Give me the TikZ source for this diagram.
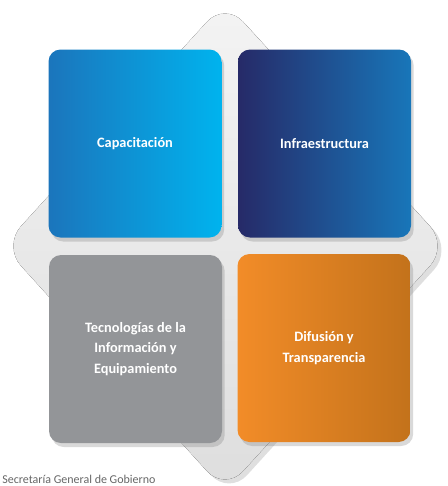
\documentclass[tikz,border=0pt]{standalone}
\usepackage{fontspec}
\setmainfont{Carlito}
\usetikzlibrary{shadows}
\definecolor{capizq}{HTML}{1B75BC}
\definecolor{capder}{HTML}{00B3EE}
\definecolor{infizq}{HTML}{262A68}
\definecolor{infder}{HTML}{1876B9}
\definecolor{tecgris}{HTML}{939598}
\definecolor{difizq}{HTML}{F28C28}
\definecolor{difder}{HTML}{C3721B}
\begin{document}
\begin{tikzpicture}[x=0.75pt,y=0.75pt,
        cuadro/.style={rounded corners=9pt, minimum width=129.75pt, minimum height=141pt,
          align=center, text=white, inner sep=0pt,
          font=\bfseries\fontsize{10.75}{15.25}\selectfont,
          drop shadow={opacity=0.3, shadow xshift=2pt, shadow yshift=-3pt}},
        fondo/.style={rounded corners=20pt, top color=gray!9, bottom color=gray!26,
          drop shadow={opacity=0.25, shadow xshift=3pt, shadow yshift=-3pt}}]
        \useasboundingbox (0,0) rectangle (447,-486);
        % rombo de fondo
        \fill [fondo] (225,-2) -- (448,-246) -- (225,-491) -- (3,-246) -- cycle;
        % cuadros
        \node (cap) at (135,-143.5) [cuadro, left color=capizq, right color=capder] {Capacitación};
        \node (inf) at (324.5,-143.5) [cuadro, left color=infizq, right color=infder] {Infraestructura};
        \node (tec) at (135.5,-349) [cuadro, fill=tecgris] {Tecnologías de la\\Información y\\Equipamiento};
        \node (dif) at (324,-348) [cuadro, left color=difizq, right color=difder] {Difusión y\\Transparencia};
        \node (fuente) at (2,-483) [anchor=base west, inner sep=0pt, text=gray!80!black,
          font=\fontsize{9}{10}\selectfont] {Secretaría General de Gobierno};
\end{tikzpicture}
\end{document}
